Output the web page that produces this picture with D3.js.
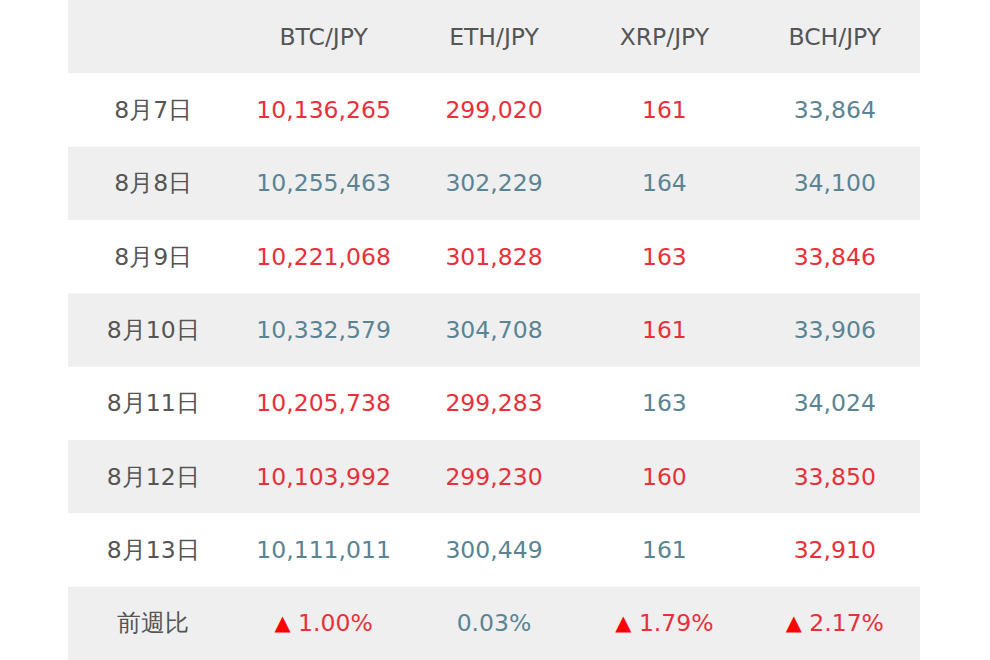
<!DOCTYPE html>
<html><head><meta charset="utf-8">
<script src="https://cdn.jsdelivr.net/npm/d3@7"></script>
<style>body{margin:0;background:#fff}</style></head>
<body><svg id="c" width="990" height="660"></svg>
<script>
const columns = ["", "BTC/JPY", "ETH/JPY", "XRP/JPY", "BCH/JPY"];
const dates = ["8月7日","8月8日","8月9日","8月10日","8月11日","8月12日","8月13日"];
const btc = ["10,136,265","10,255,463","10,221,068","10,332,579","10,205,738","10,103,992","10,111,011"];
const eth = ["299,020","302,229","301,828","304,708","299,283","299,230","300,449"];
const xrp = ["161","164","163","161","163","160","161"];
const bch = ["33,864","34,100","33,846","33,906","34,024","33,850","32,910"];
// colour flags: 1 = red, 0 = teal
const btcUp = [1,0,1,0,1,1,0];
const ethUp = [1,0,1,0,1,1,0];
const xrpUp = [1,0,1,1,0,1,0];
const bchUp = [0,0,1,0,0,1,1];
const weekLabel = "前週比";
const weekChange = ["1.00%","0.03%","1.79%","2.17%"];
const weekUp = [1,0,1,1];

const RED="#e8303a", TEAL="#5a8494";
const svg=d3.select("#c");
const x=d3.scaleBand().domain(d3.range(5)).range([68,920]);
const rowsN=dates.length+2;
const y=d3.scaleBand().domain(d3.range(rowsN)).range([0,660]);
svg.selectAll("rect.r").data(d3.range(rowsN)).join("rect")
 .attr("x",68).attr("width",852).attr("y",d=>y(d)).attr("height",y.bandwidth()+0.5)
 .attr("fill",d=>d%2===0?"#efefef":"#ffffff");
const font="'DejaVu Sans', Verdana, sans-serif";
function txt(col,row,s,color){
 svg.append("text").attr("x",x(col)+x.bandwidth()/2).attr("y",y(row)+y.bandwidth()/2)
  .attr("text-anchor","middle").attr("dominant-baseline","central")
  .attr("font-family",font).attr("font-size",23.5).attr("fill",color).text(s);
}
columns.forEach((c,i)=>txt(i,0,c,"#555"));
const series=[btc,eth,xrp,bch], ups=[btcUp,ethUp,xrpUp,bchUp];
dates.forEach((d,r)=>{
 txt(0,r+1,d,"#555");
 series.forEach((s,j)=>txt(j+1,r+1,s[r],ups[j][r]?RED:TEAL));
});
const last=rowsN-1;
txt(0,last,weekLabel,"#555");
weekChange.forEach((v,j)=>txt(j+1,last,(weekUp[j]?"▲ ":"")+v,weekUp[j]?RED:TEAL));
svg.selectAll("text").filter(function(){return this.textContent.startsWith("▲")}).each(function(){
 const t=d3.select(this), s=t.text();
 t.text(null);
 t.append("tspan").attr("fill","#ff0000").attr("font-size",21).text("▲");
 t.append("tspan").text(" "+s.slice(2));
});
</script></body></html>
